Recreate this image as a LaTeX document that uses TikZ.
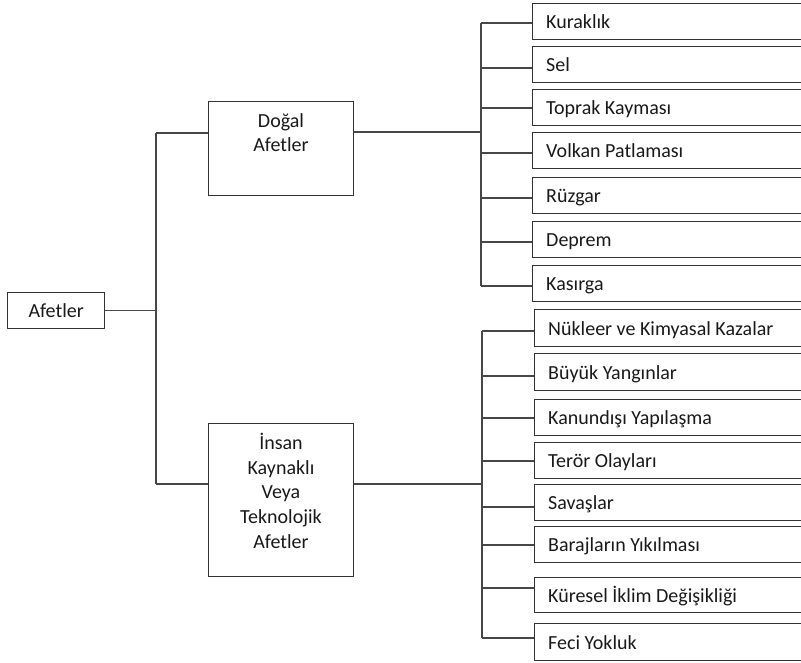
\documentclass[tikz,border=0pt]{standalone}
\usepackage{fontspec}
\setmainfont{Carlito}
\begin{document}
\begin{tikzpicture}[x=1pt,y=-1pt,
  every node/.style={font=\fontsize{20}{24.6}\selectfont, text=black!90},
  ln/.style={draw=black!72, line width=1.3pt},
  box/.style={draw=black!80, line width=1.3pt, inner sep=0pt, anchor=north west},
  lbl/.style={inner sep=0pt}]
\useasboundingbox (0,0) rectangle (801,663);
% root
\node[box, minimum width=97pt, minimum height=36pt] (root) at (7,292) {Afetler};
% category boxes
\node[box, minimum width=145pt, minimum height=94pt] (dogal) at (208,101) {};
\node[lbl, align=center, anchor=base] (dogaltxt) at (281,152) {Doğal\\Afetler};
\node[box, minimum width=145pt, minimum height=153pt] (insan) at (208,423) {};
\node[lbl, align=center, anchor=base] (insantxt) at (281,548) {İnsan\\Kaynaklı\\Veya\\Teknolojik\\Afetler};
% main bus
\coordinate (mbtop) at (156,133);
\coordinate (mbbot) at (156,484);
\draw[ln] (root.east) -- (root.east -| mbtop);
\draw[ln] (mbtop) -- (mbbot);
\draw[ln] (mbtop) -- (mbtop -| dogal.west);
\draw[ln] (mbbot) -- (mbbot -| insan.west);
% natural children
\foreach \t/\b/\c/\txt [count=\i] in {
  3/39/23/Kuraklık,
  46/82/68/Sel,
  89/125/108/Toprak Kayması,
  132/168/153/Volkan Patlaması,
  177/213/198/Rüzgar,
  221/257/242/Deprem,
  265/301/286/Kasırga}{
  \pgfmathsetmacro\h{\b-\t}
  \node[box, minimum width=290pt, minimum height=\h pt] (a\i) at (532,\t) {};
  \node[lbl, anchor=base west] (at\i) at (546,{(\t+\b)/2+7.5}) {\txt};
  \coordinate (ak\i) at (481,\c);
  \draw[ln] (ak\i) -- (ak\i -| a\i.west);
}
\coordinate (nj) at (481,132);
\draw[ln] (nj -| dogal.east) -- (nj);
\draw[ln] (ak1) -- (ak7);
% human children
\foreach \t/\b/\c/\txt [count=\i] in {
  309/346/331/Nükleer ve Kimyasal Kazalar,
  353/390/376/Büyük Yangınlar,
  399/435/418/Kanundışı Yapılaşma,
  442/478/461/Terör Olayları,
  484/520/507/Savaşlar,
  526/562/545/Barajların Yıkılması,
  577/612/588/Küresel İklim Değişikliği,
  623/660/638/Feci Yokluk}{
  \pgfmathsetmacro\h{\b-\t}
  \node[box, minimum width=290pt, minimum height=\h pt] (b\i) at (534,\t) {};
  \node[lbl, anchor=base west] (bt\i) at (548,{(\t+\b)/2+7.5}) {\txt};
  \coordinate (bk\i) at (482,\c);
  \draw[ln] (bk\i) -- (bk\i -| b\i.west);
}
\coordinate (hj) at (482,484);
\draw[ln] (hj -| insan.east) -- (hj);
\draw[ln] (bk1) -- (bk8);
\end{tikzpicture}
\end{document}
